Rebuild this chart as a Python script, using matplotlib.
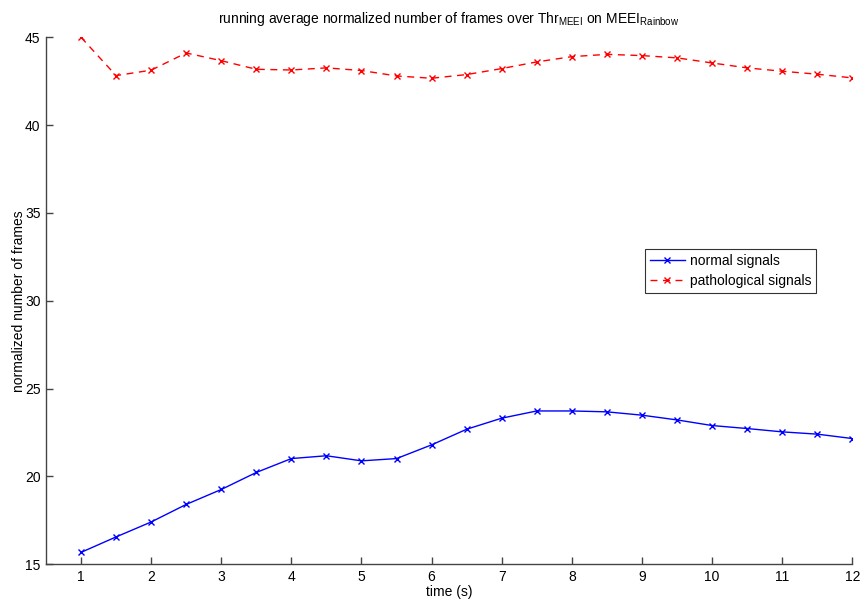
import matplotlib
matplotlib.use("Agg")
import matplotlib.pyplot as plt
import numpy as np

plt.rcParams['font.family'] = ['Liberation Sans', 'DejaVu Sans']
plt.rcParams['mathtext.default'] = 'regular'

# running averages, one value every half second
temps = np.arange(1, 12.5, 0.5)
normal = [15.68, 16.56, 17.41, 18.41, 19.26, 20.23, 21.02, 21.18, 20.89, 21.02,
          21.80, 22.69, 23.32, 23.73, 23.73, 23.68, 23.49, 23.22, 22.90, 22.73,
          22.54, 22.41, 22.16]
patologic = [45.00, 42.82, 43.13, 44.11, 43.67, 43.18, 43.14, 43.26, 43.11, 42.80,
             42.67, 42.88, 43.22, 43.60, 43.90, 44.03, 43.96, 43.83, 43.54, 43.26,
             43.07, 42.90, 42.69]
xticks = list(range(1, 13))
yticks = [15, 20, 25, 30, 35, 40, 45]

fig = plt.figure(figsize=(8.61, 5.99), dpi=100)
ax = fig.add_axes([0.0534, 0.0579, 0.9365, 0.8798])

ax.plot(temps, normal, color='blue', marker='x', markersize=4.5, linewidth=1,
        label='normal signals')
ax.plot(temps, patologic, color='red', marker='x', markersize=4.5, linewidth=1,
        linestyle=(0, (5, 4)), label='pathological signals')

ax.set_xlim(0.5, 12)
ax.set_ylim(15, 45)
ax.set_xticks(xticks)
ax.set_yticks(yticks)

for s in ['top', 'right']:
    ax.spines[s].set_visible(False)
for s in ['left', 'bottom']:
    ax.spines[s].set_color('#444444')
    ax.spines[s].set_linewidth(1)
ax.tick_params(direction='in', length=5, width=1, color='#444444',
               labelsize=10, pad=4)

ax.set_xlabel('time (s)', fontsize=10, labelpad=1)
ax.set_ylabel('normalized number of frames', fontsize=10, labelpad=-1)
ax.set_title(r'running average normalized number of frames over Thr$_{MEEI}$ on MEEI$_{Rainbow}$',
             fontsize=10, pad=10)

leg = ax.legend(loc='center left', bbox_to_anchor=(0.743, 0.557), fontsize=10,
                frameon=True, fancybox=False, handlelength=2.5, handletextpad=0.35,
                borderpad=0.35, labelspacing=0.45, borderaxespad=0)
leg.get_frame().set_edgecolor('black')
leg.get_frame().set_linewidth(0.8)

fig.savefig('out.png', dpi=100)
